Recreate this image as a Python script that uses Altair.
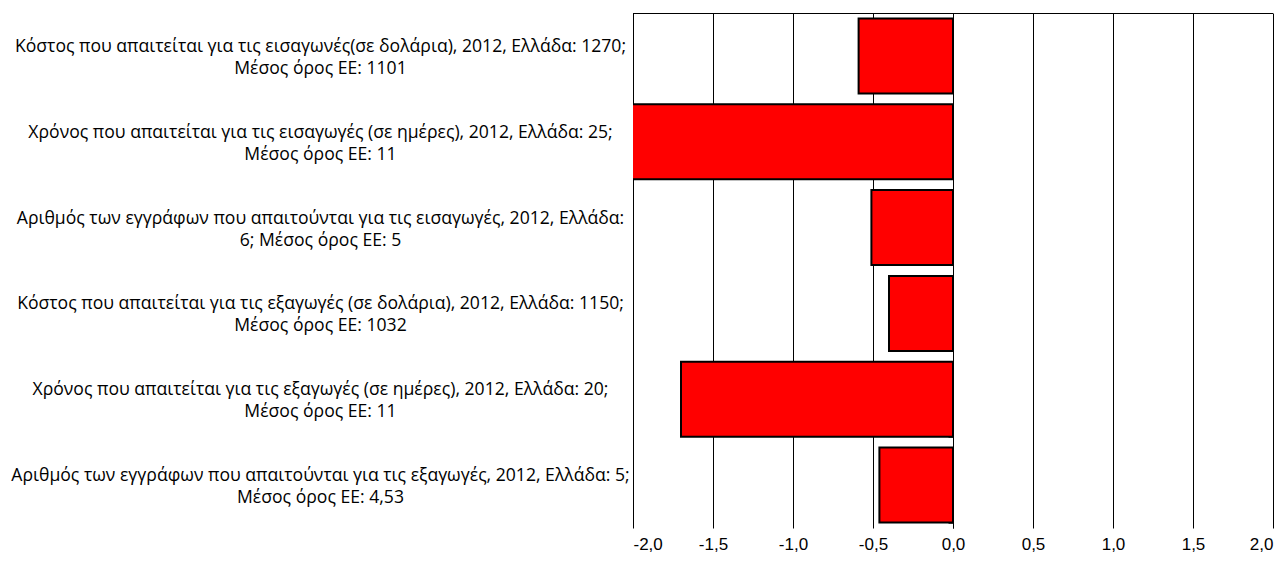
import altair as alt
import pandas as pd

categories = [
    "Κόστος που απαιτείται για τις εισαγωνές(σε δολάρια), 2012, Ελλάδα: 1270;\nΜέσος όρος ΕΕ: 1101",
    "Χρόνος που απαιτείται για τις εισαγωγές (σε ημέρες), 2012, Ελλάδα: 25;\nΜέσος όρος ΕΕ: 11",
    "Αριθμός των εγγράφων που απαιτούνται για τις εισαγωγές, 2012, Ελλάδα:\n6; Μέσος όρος ΕΕ: 5",
    "Κόστος που απαιτείται για τις εξαγωγές (σε δολάρια), 2012, Ελλάδα: 1150;\nΜέσος όρος ΕΕ: 1032",
    "Χρόνος που απαιτείται για τις εξαγωγές (σε ημέρες), 2012, Ελλάδα: 20;\nΜέσος όρος ΕΕ: 11",
    "Αριθμός των εγγράφων που απαιτούνται για τις εξαγωγές, 2012, Ελλάδα: 5;\nΜέσος όρος ΕΕ: 4,53",
]
values = [-0.59, -2.1, -0.51, -0.40, -1.70, -0.46]
x_ticks = [-2.0, -1.5, -1.0, -0.5, 0.0, 0.5, 1.0, 1.5, 2.0]

df = pd.DataFrame({"cat": categories, "val": values})

W, H = 640, 515

xscale = alt.Scale(domain=[-2, 2], nice=False, zero=False)
yscale = alt.Scale(paddingInner=0.126, paddingOuter=0.063)

x_axis = alt.Axis(
    values=x_ticks,
    grid=True,
    gridColor="black",
    gridWidth=1,
    gridOpacity=1,
    domain=False,
    ticks=False,
    labelPadding=8,
    labelFont="Liberation Sans",
    labelFontSize=17,
    labelColor="black",
    labelExpr="(datum.value < 0 ? '-' : '') + replace(format(abs(datum.value), '.1f'), '.', ',')",
    title=None,
)

bars = alt.Chart(df).mark_bar(
    color="#ff0000", stroke="black", strokeWidth=2, clip=True
).encode(
    x=alt.X("val:Q", scale=xscale, axis=x_axis),
    y=alt.Y(
        "cat:N",
        sort=categories,
        scale=yscale,
        axis=alt.Axis(
            orient="left",
            domain=False,
            ticks=False,
            grid=False,
            labelAlign="center",
            labelBaseline="middle",
            labelPadding=313,
            labelOffset=-9,
            labelFont="Open Sans",
            labelFontSize=17.6,
            labelColor="black",
            labelLineHeight=22,
            labelLimit=0,
            labelExpr="split(datum.label, '\\n')",
            title=None,
        ),
    ),
)

zero_axis = alt.Chart(df).mark_bar(opacity=0).encode(
    x=alt.X("val:Q", scale=xscale, axis=x_axis),
    y=alt.Y(
        "cat:N",
        sort=categories,
        scale=yscale,
        axis=alt.Axis(
            orient="left",
            offset=-W / 2,
            labels=False,
            grid=False,
            domain=True,
            domainColor="black",
            domainWidth=1,
            ticks=True,
            tickBand="extent",
            tickSize=5,
            tickColor="#555555",
            tickWidth=1,
            title=None,
        ),
    ),
)

top_rule = alt.Chart(pd.DataFrame({"k": [0]})).mark_rule(
    color="black", strokeWidth=1
).encode(y=alt.value(0.5), x=alt.value(0), x2=alt.value(W))

chart = (
    alt.layer(bars, zero_axis, top_rule)
    .resolve_axis(y="independent")
    .properties(
        width=W,
        height=H,
        autosize=alt.AutoSizeParams(type="none"),
        padding={"left": 625, "top": 5, "right": 5, "bottom": 27},
        background="white",
    )
    .configure_view(stroke=None)
)

chart.save("out.html", embed_options={"renderer": "svg", "actions": False})
